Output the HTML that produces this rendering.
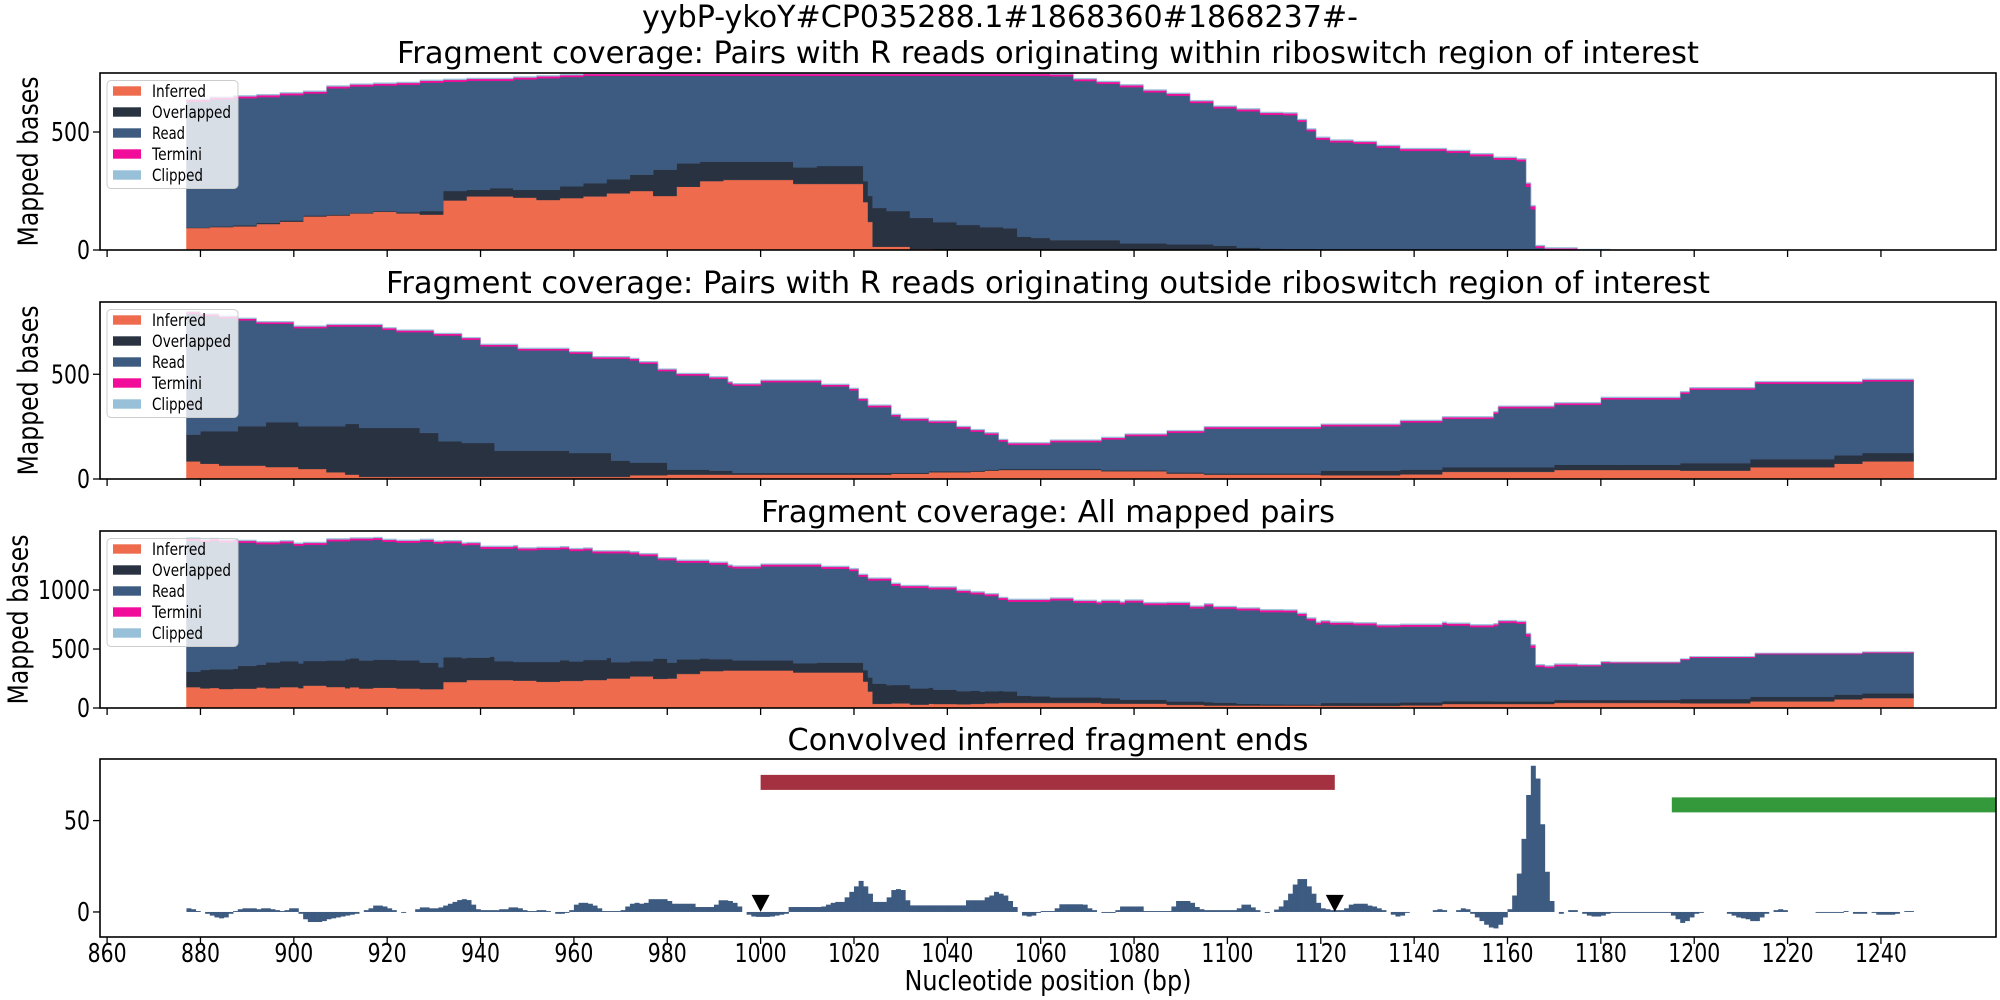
<!DOCTYPE html>
<html><head><meta charset="utf-8">
<style>
html,body{margin:0;padding:0;background:#fff;}
svg{display:block;font-family:"DejaVu Sans","Liberation Sans",sans-serif;}
</style></head>
<body>
<svg id="chart" width="2000" height="1000" viewBox="0 0 2000 1000" xmlns="http://www.w3.org/2000/svg">
<rect width="2000" height="1000" fill="#fff"/>
<text x="1000" y="27" text-anchor="middle" font-size="30" textLength="716" lengthAdjust="spacingAndGlyphs">yybP-ykoY#CP035288.1#1868360#1868237#-</text>
<text x="1048" y="63" text-anchor="middle" font-size="30" textLength="1302" lengthAdjust="spacingAndGlyphs">Fragment coverage: Pairs with R reads originating within riboswitch region of interest</text>
<text x="1048" y="293" text-anchor="middle" font-size="30" textLength="1324" lengthAdjust="spacingAndGlyphs">Fragment coverage: Pairs with R reads originating outside riboswitch region of interest</text>
<text x="1048" y="522" text-anchor="middle" font-size="30" textLength="574" lengthAdjust="spacingAndGlyphs">Fragment coverage: All mapped pairs</text>
<text x="1048" y="750" text-anchor="middle" font-size="30" textLength="521" lengthAdjust="spacingAndGlyphs">Convolved inferred fragment ends</text>
<text x="1048" y="990" text-anchor="middle" font-size="28" textLength="287" lengthAdjust="spacingAndGlyphs">Nucleotide position (bp)</text>
<g id="plots"></g>
</svg>
<script>
// ---- x axis ----
const xTicks = [860,880,900,920,940,960,980,1000,1020,1040,1060,1080,1100,1120,1140,1160,1180,1200,1220,1240];
const layerNames = ["Inferred","Overlapped","Read","Termini","Clipped"];
const layerColors = ["#ee6c4d","#293241","#3d5a80","#f20c9a","#98c1d9"];

// ---- panel 1: R reads within region ----
const pos1 = [877,882,887,892,897,902,907,912,917,922,927,932,937,942,947,952,957,962,967,972,977,982,987,992,997,1002,1007,1012,1017,1022,1023,1024,1027,1032,1037,1042,1047,1052,1055,1058,1062,1067,1072,1077,1082,1087,1092,1097,1102,1107,1112,1115,1117,1119,1122,1127,1132,1137,1142,1147,1152,1157,1162,1164,1165,1166,1168,1175,1182];
const inf1 = [93,97,100,110,120,142,146,155,162,155,150,210,227,227,222,212,220,227,240,250,229,268,292,297,297,297,280,280,280,203,119,14,14,4,2,0,0,0,0,0,0,0,0,0,0,0,0,0,0,0,0,0,0,0,0,0,0,0,0,0,0,0,0,0,0,0,0,0,0];
const ovl1 = [2,3,5,5,5,4,4,3,3,5,15,40,28,35,33,43,50,56,60,69,111,99,82,77,77,77,70,76,76,89,110,164,151,132,116,106,97,92,56,51,42,42,42,28,28,24,24,18,10,6,4,4,4,3,3,2,2,2,2,2,1,0,0,0,0,0,0,0,0];
const read1 = [534,538,538,533,531,517,535,535,532,540,544,463,462,455,468,473,463,455,438,419,398,371,364,364,364,364,388,382,382,446,509,560,573,602,620,632,641,646,682,687,694,674,662,662,640,630,599,582,578,567,567,539,499,465,453,448,431,418,418,410,397,383,376,268,172,9,1,0,0];
const term1 = [8,8,8,8,8,8,8,8,8,8,8,8,8,8,8,8,8,8,8,8,8,8,8,8,8,8,8,8,8,8,8,8,8,8,8,8,8,8,8,8,8,8,8,8,8,8,8,8,8,8,8,8,8,8,8,8,8,8,8,8,8,8,8,14,14,8,6,2,0];
const clip1 = [4,4,4,4,4,4,4,4,4,4,4,4,4,4,4,4,4,4,4,4,4,4,4,4,4,4,4,4,4,4,4,4,4,4,4,4,4,4,4,4,4,4,4,4,4,4,4,4,4,4,4,4,4,4,4,4,4,4,4,4,4,4,4,4,4,4,4,2,0];

// ---- panel 2: R reads outside region ----
const pos2 = [877,880,884,888,892,894,900,901,907,911,914,919,922,927,930,931,936,940,943,948,959,964,968,972,974,978,980,982,989,993,994,1000,1013,1019,1021,1023,1028,1030,1036,1042,1045,1048,1051,1053,1062,1073,1078,1087,1095,1120,1137,1146,1157,1158,1170,1180,1197,1199,1212,1213,1230,1236,1247];
const inf2 = [84,73,64,64,64,57,57,48,32,21,10,10,10,10,10,10,10,10,10,10,10,10,10,18,18,18,21,21,21,21,21,21,21,21,21,21,25,25,32,32,35,40,43,43,43,37,37,26,21,18,22,34,34,34,43,43,40,40,56,56,73,84,0];
const ovl2 = [128,155,164,188,188,214,214,204,220,242,234,234,234,210,210,170,162,162,125,125,114,114,78,60,60,60,24,24,19,19,8,8,8,8,8,8,5,5,5,5,5,5,5,5,5,5,5,5,5,22,23,22,22,22,25,25,36,36,39,39,40,40,0];
const read2 = [577,550,540,505,489,470,449,468,476,465,484,468,457,481,465,505,493,461,498,479,474,450,486,488,472,437,470,449,438,414,416,433,413,394,346,314,269,250,231,204,186,166,131,115,128,147,163,190,214,212,225,231,255,282,286,312,331,350,331,360,342,342,0];
const term2 = [8,8,8,8,8,8,8,8,8,8,8,8,8,8,8,8,8,8,8,8,8,8,8,8,8,8,8,8,8,8,8,8,8,8,8,8,8,8,8,8,8,8,8,8,8,8,8,8,8,8,8,8,8,8,8,8,8,8,8,8,8,8,0];
const clip2 = [4,4,4,4,4,4,4,4,4,4,4,4,4,4,4,4,4,4,4,4,4,4,4,4,4,4,4,4,4,4,4,4,4,4,4,4,4,4,4,4,4,4,4,4,4,4,4,4,4,4,4,4,4,4,4,4,4,4,4,4,4,4,0];

// ---- panel 4: convolved inferred fragment ends (one value per bp, starting at convStart) ----
const convStart = 877;
const convVals = [
2,1.5,0.5,0,-1,-2,-3,-3.5,-3,-1,0.5,1.5,2,2,2,1.5,2,2,1.5,1,0.5,1,2,2,
-1,-4,-5.5,-5.5,-5.5,-5,-4,-3.5,-3,-2.5,-2,-1.5,-1,0,1,2,3.5,3.5,3,2,1,0,-0.5,0,0,
1.5,2.5,2.5,2,2,2.5,3.5,4.5,5.5,6.5,7,6.5,4,1.5,1,1,1,1,1.5,1.5,2.5,2.5,2,1,0.5,
0.5,1,1,0.5,0,-1,-1,-0.5,1,4,5,5,4.5,3.5,2,0.5,0.5,0.5,0.5,1,3,4.5,5,4.5,5,
7,7,7,7,6,4.5,4.5,4.5,4.5,4.5,2.7,2.7,2.7,2.7,4,6.4,6.4,6,5,3,0,-1.5,-2.5,-2.7,-2.7,
-2.7,-2.5,-2,-1.5,-1,2.7,2.7,2.7,2.7,2.7,2.7,2.7,3,4,5,5.5,5.5,8,11,14,17,14,10,5.5,5.5,
5.5,8,12,12.5,12,6.4,3.6,3.6,3.6,3.6,3.6,3.6,3.6,3.6,3.6,3.6,3.6,3.6,6.4,6.4,6.4,6.4,8,9,11,
10,9,6,2.7,0,-2,-2.5,-2,-0.5,0.5,0.5,0.5,2,4.2,4.2,4.2,4.2,4.2,4,2,1,0,-0.5,-0.5,-0.5,
1,3,3,3,3,3,0.5,0.5,0.5,0.5,0.5,0.5,3,6,6,6,5,2.7,1.5,1,1,1,1,1,1,
1,2,4,4,2.5,1,0,-0.5,0,1.3,3,6.4,10,15,18,18,14,10,5,2,1.5,1,1,1,2,
4,4.5,4.5,4.5,3.5,3,2,1,0,-1.5,-2.5,-2,-0.5,0,0,0,0,0,1,1.5,1,0,0,1,2,
1.5,-1,-3,-5,-7,-8.5,-9,-7,-3,1.5,9,21,40,64,80,73,48,22,6,0,-1,0,1,1,0,
-1,-2,-2.5,-2.5,-2,-1,-0.5,-0.5,-0.5,-0.5,-0.5,-0.5,-0.5,-0.5,-0.5,-0.5,-0.5,-0.5,-0.5,-2,-4,-6,-5,-3,-1,
-0.5,0,0,0,0,0,-1,-2,-3,-3.5,-4,-5,-5,-3,-1,0,1,1.5,1,0,0,0,0,0,0,
-0.5,-0.5,-0.5,-0.5,-0.5,-0.5,0.5,0,-1,-1,-1,0,-0.5,-1.5,-1.5,-1.5,-1.5,-1,0,0.5,0.5];
const markerPos = [1000,1123];
const markerVal = [4.7,4.7];
const regionStart = [1000,1195.2];
const regionEnd = [1123,1270];
const regionVal = [70.9,58.6];
const regionColors = ["#a4313f","#34993a"];

// ---- layout ----
const X0 = 107.1, PXBP = 4.668, LEFT = 100, RIGHT = 1996;
function xs(b){ return X0 + (b-860)*PXBP; }
const NS = "http://www.w3.org/2000/svg";
const root = document.getElementById('plots');
function el(tag, attrs, parent){ const e=document.createElementNS(NS,tag); for(const k in attrs) e.setAttribute(k,attrs[k]); (parent||root).appendChild(e); return e; }

const panels = [
 {top:73, bottom:250, ymin:0, ymax:750, yt:[0,500]},
 {top:302, bottom:479, ymin:0, ymax:845, yt:[0,500]},
 {top:531, bottom:708, ymin:0, ymax:1500, yt:[0,500,1000]},
 {top:759, bottom:937, ymin:-13.7, ymax:83.7, yt:[0,50]}
];
function ysF(p){ return v => p.bottom - (v-p.ymin)/(p.ymax-p.ymin)*(p.bottom-p.top); }
function stepVal(pos, vals, b){ let v=0; for(let i=0;i<pos.length;i++){ if(pos[i]<=b) v=vals[i]; else break; } return v; }

const bps=[]; for(let b=877;b<=1246;b++) bps.push(b);
const d1 = [inf1,ovl1,read1,term1,clip1].map(a=>bps.map(b=>stepVal(pos1,a,b)));
const d2 = [inf2,ovl2,read2,term2,clip2].map(a=>bps.map(b=>stepVal(pos2,a,b)));
const d3 = d1.map((arr,k)=>arr.map((v,i)=>v+d2[k][i]));

function drawStack(pi, data){
  const p = panels[pi], ys = ysF(p);
  const cp = el('clipPath',{id:'clip'+pi});
  el('rect',{x:LEFT,y:p.top,width:RIGHT-LEFT,height:p.bottom-p.top},cp);
  const g = el('g',{'clip-path':'url(#clip'+pi+')'});
  
  
  const cum = bps.map(()=>0);
  data.forEach((arr,k)=>{
    let top='', bot=[];
    bps.forEach((b,i)=>{
      const y0 = ys(cum[i]), y1 = ys(cum[i]+arr[i]);
      top += (i===0?'M':'L')+xs(b).toFixed(2)+','+y1.toFixed(2)+'L'+xs(b+1).toFixed(2)+','+y1.toFixed(2);
      bot.push('L'+xs(b+1).toFixed(2)+','+y0.toFixed(2)+'L'+xs(b).toFixed(2)+','+y0.toFixed(2));
      cum[i]+=arr[i];
    });
    const path = el('path',{d: top + bot.reverse().join('') + 'Z', fill:layerColors[k], stroke:layerColors[k], 'stroke-width':0.4},g);
    
    
  });
}
function drawAxes(pi, showXLabels, yLabel){
  const p = panels[pi], ys = ysF(p);
  const g = el('g',{});
  
  
  el('rect',{x:LEFT,y:p.top,width:RIGHT-LEFT,height:p.bottom-p.top,fill:'none',stroke:'#000','stroke-width':1.6},g);
  xTicks.forEach(t=>{
    el('line',{x1:xs(t),x2:xs(t),y1:p.bottom,y2:p.bottom+7,stroke:'#000','stroke-width':1.3},g);
    if(showXLabels){
      const s=String(t);
      const tx = el('text',{x:xs(t),y:962,'text-anchor':'middle','font-size':26,textLength:s.length*13,lengthAdjust:'spacingAndGlyphs'},g);
      tx.textContent=s;
      
      
    }
  });
  p.yt.forEach(t=>{
    const y=ys(t);
    el('line',{x1:LEFT-7,x2:LEFT,y1:y,y2:y,stroke:'#000','stroke-width':1.3},g);
    const s=String(t);
    const tx=el('text',{x:LEFT-10,y:y+9,'text-anchor':'end','font-size':26,textLength:s.length*13,lengthAdjust:'spacingAndGlyphs'},g);
    tx.textContent=s;
    
    
  });
  if(yLabel){
    const cy=(p.top+p.bottom)/2, cx = pi===2?18:28;
    const tx=el('text',{x:cx,y:cy,'text-anchor':'middle','dominant-baseline':'central','font-size':28,transform:'rotate(-90 '+cx+' '+cy+')',textLength:170,lengthAdjust:'spacingAndGlyphs'},g);
    tx.textContent=yLabel;
    
    
  }
}
const legendW = [54,79,33,50,51];
function drawLegend(pi){
  const p = panels[pi];
  const g = el('g',{});
  
  
  const y0 = p.top+7.5;
  el('rect',{x:107,y:y0,width:131,height:108,rx:4,fill:'rgba(255,255,255,0.8)',stroke:'#cccccc','stroke-width':1},g);
  layerNames.forEach((n,k)=>{
    const cy = y0+10.5+k*21;
    const e = el('g',{},g);
    
    
    el('rect',{x:113,y:cy-4.7,width:28,height:9.4,fill:layerColors[k]},e);
    const tx = el('text',{x:152,y:cy+6,'font-size':17,textLength:legendW[k],lengthAdjust:'spacingAndGlyphs'},e);
    tx.textContent=n;
  });
}
drawStack(0,d1); drawStack(1,d2); drawStack(2,d3);

// panel 4 bars
(function(){
  const p=panels[3], ys=ysF(p);
  const cp = el('clipPath',{id:'clip3'});
  el('rect',{x:LEFT,y:p.top,width:RIGHT-LEFT,height:p.bottom-p.top},cp);
  const g = el('g',{'clip-path':'url(#clip3)'});
  
  
  convVals.forEach((v,i)=>{
    if(v===0) return;
    const b = convStart+i;
    const y0=ys(0), y1=ys(v);
    const r = el('rect',{x:xs(b),y:Math.min(y0,y1),width:PXBP+0.3,height:Math.abs(y1-y0),fill:'#3d5a80'},g);
    
    
  });
  regionStart.forEach((s,i)=>{
    const yc=ys(regionVal[i]);
    const r = el('rect',{x:xs(s),y:yc-7.5,width:xs(regionEnd[i])-xs(s),height:15,fill:regionColors[i]},g);
    
    
  });
  markerPos.forEach((m,i)=>{
    const cx=xs(m), cy=ys(markerVal[i]);
    const t = el('path',{d:'M'+(cx-9)+','+(cy-8.5)+'L'+(cx+9)+','+(cy-8.5)+'L'+cx+','+(cy+8.5)+'Z',fill:'#000'},g);
    
    
  });
})();

drawLegend(0); drawLegend(1); drawLegend(2);
drawAxes(0,false,'Mapped bases');
drawAxes(1,false,'Mapped bases');
drawAxes(2,false,'Mapped bases');
drawAxes(3,true,null);
</script>
</body></html>
